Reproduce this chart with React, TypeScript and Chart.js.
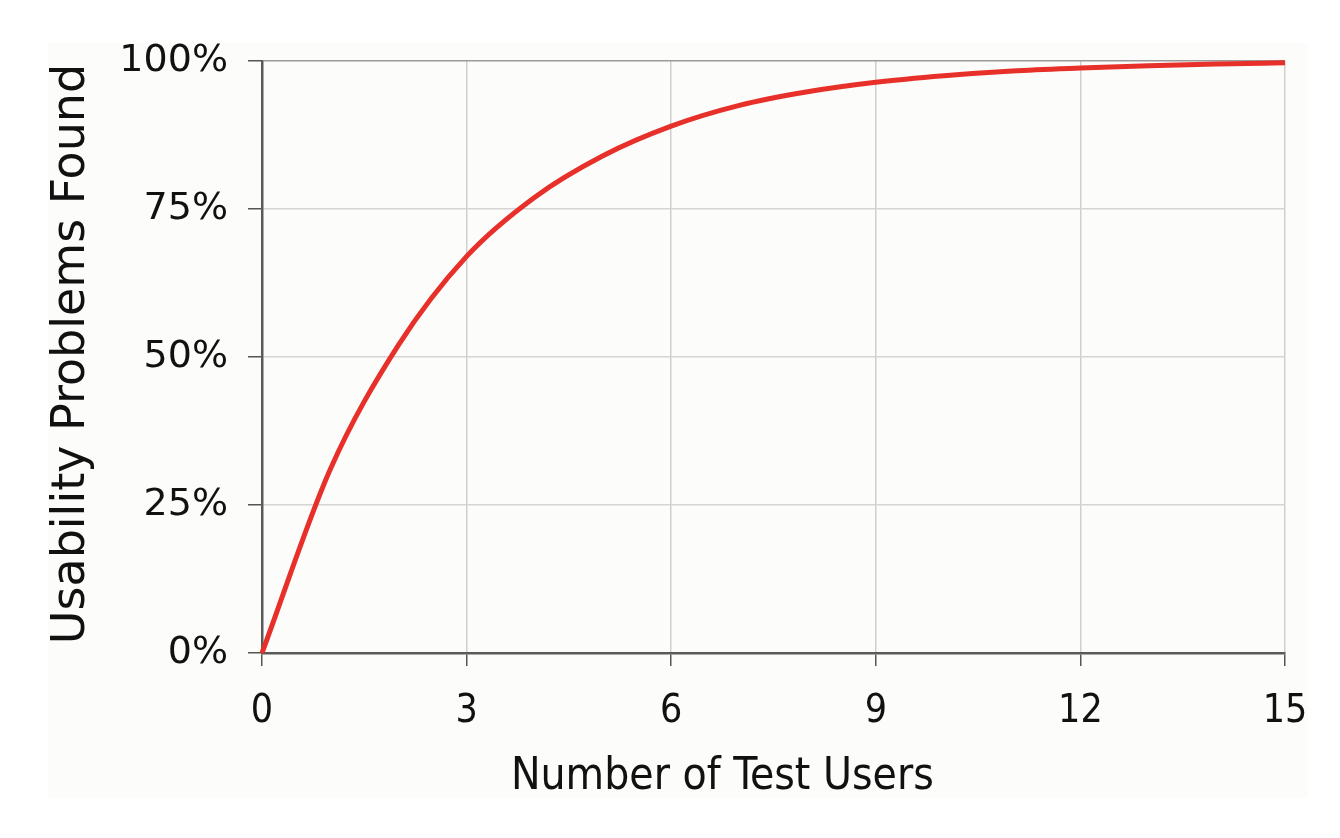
import React, { useEffect, useRef } from "react";
import { Chart, registerables } from "chart.js";

Chart.register(...registerables);

const users = [0, 1, 2, 3, 4, 5, 6, 7, 8, 9, 10, 11, 12, 13, 14, 15];
const problemsFound = [0, 0.31, 0.52, 0.67, 0.77, 0.84, 0.89, 0.925, 0.948, 0.964, 0.975, 0.983, 0.988, 0.992, 0.995, 0.997];
const xTickValues = [0, 3, 6, 9, 12, 15];
const yTickValues = [0, 0.25, 0.5, 0.75, 1];
const xTitle = "Number of Test Users";
const yTitle = "Usability Problems Found";

const FONT_C = "'DejaVu Sans Condensed', 'DejaVu Sans', sans-serif";
const FONT = "'DejaVu Sans', sans-serif";

const axisTitlePlugin = {
  id: "axisTitles",
  afterDraw(chart: any) {
    const { ctx, chartArea } = chart;
    ctx.save();
    ctx.fillStyle = "#111";
    ctx.textAlign = "center";
    ctx.textBaseline = "middle";
    ctx.font = `44px ${FONT_C}`;
    const cx = chartArea.left + (chartArea.right - chartArea.left) * 0.45;
    ctx.fillText(xTitle, cx, chartArea.bottom + 125);
    ctx.font = `46px ${FONT}`;
    ctx.translate(chartArea.left - 190, (chartArea.top + chartArea.bottom) / 2 - 3);
    ctx.rotate(-Math.PI / 2);
    ctx.fillText(yTitle, 0, 0);
    ctx.restore();
  },
};

export default function App() {
  const ref = useRef<HTMLCanvasElement | null>(null);

  useEffect(() => {
    if (!ref.current) return;
    const chart = new Chart(ref.current, {
      type: "line",
      data: {
        datasets: [
          {
            data: users.map((u, i) => ({ x: u, y: problemsFound[i] })),
            borderColor: "#e8302a",
            borderWidth: 5,
            pointRadius: 0,
            cubicInterpolationMode: "monotone",
            fill: false,
            clip: false as any,
          },
        ],
      },
      options: {
        animation: false,
        responsive: false,
        maintainAspectRatio: false,
        layout: { padding: { top: 61, right: 55, left: 0, bottom: 0 } },
        plugins: { legend: { display: false }, tooltip: { enabled: false } },
        scales: {
          x: {
            type: "linear",
            min: 0,
            max: 15,
            afterFit: (s: any) => {
              s.height = 185;
            },
            afterBuildTicks: (s: any) => {
              s.ticks = xTickValues.map((v) => ({ value: v }));
            },
            ticks: {
              color: "#111",
              font: { family: FONT_C, size: 39 },
              padding: 22,
              maxRotation: 0,
            },
            grid: {
              color: (c: any) => (c.tick && c.tick.value === 0 ? "rgba(0,0,0,0)" : "#cfcfcf"),
              lineWidth: 1.5,
              tickColor: "#555",
              tickLength: 13,
              drawTicks: true,
            },
            border: { display: true, color: "#5a5a5a", width: 2.5 },
          },
          y: {
            type: "linear",
            min: 0,
            max: 1,
            afterFit: (s: any) => {
              s.width = 262;
            },
            afterBuildTicks: (s: any) => {
              s.ticks = yTickValues.map((v) => ({ value: v }));
            },
            ticks: {
              color: "#111",
              font: { family: FONT, size: 38 },
              padding: 20,
              callback: (v: any) => `${Math.round(Number(v) * 100)}%`,
            },
            grid: {
              color: (c: any) =>
                c.tick && c.tick.value === 1 ? "#9a9a9a" : c.tick && c.tick.value === 0 ? "rgba(0,0,0,0)" : "#d4d4d4",
              lineWidth: 1.5,
              tickColor: "#555",
              tickLength: 14,
              drawTicks: true,
            },
            border: { display: true, color: "#5a5a5a", width: 2.5 },
          },
        },
      },
      plugins: [axisTitlePlugin],
    });
    return () => chart.destroy();
  }, []);

  return (
    <div style={{ position: "fixed", left: 0, top: 0, width: 1340, height: 838, background: "#fff" }}>
      <div
        style={{ position: "absolute", left: 48, top: 43, width: 1260, height: 755, background: "#fcfcfa" }}
      />
      <canvas ref={ref} width={1340} height={838} style={{ position: "absolute", left: 0, top: 0, width: 1340, height: 838 }} />
    </div>
  );
}
